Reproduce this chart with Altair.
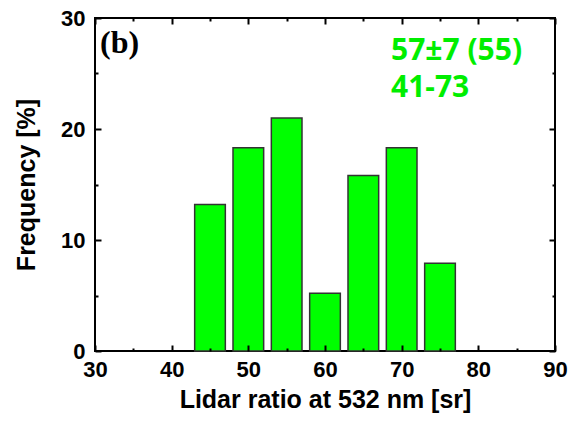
import altair as alt
import pandas as pd

# Histogram data
bin_centers = [45, 50, 55, 60, 65, 70, 75]
frequency = [13.2, 18.3, 21.0, 5.2, 15.8, 18.3, 7.9]
bar_width = 4

x_major = [30, 40, 50, 60, 70, 80, 90]
x_minor = [35, 45, 55, 65, 75, 85]
y_major = [0, 10, 20, 30]
y_minor = [5, 15, 25]

panel_label = "(b)"
stats_lines = ["57±7 (55)", "41-73"]

df = pd.DataFrame({"center": bin_centers, "freq": frequency})

LABEL_FONT = "Liberation Sans"
GREEN = "#00ff00"
TEXT_GREEN = "#00ee00"

base = alt.Chart(df).transform_calculate(
    start=f"datum.center - {bar_width}/2",
    end=f"datum.center + {bar_width}/2",
)

xscale = alt.Scale(domain=[30, 90], nice=False, zero=False)
yscale = alt.Scale(domain=[0, 30], nice=False)


def axis(orient, values, size, labels=False, title=None, pad=10, tpad=10):
    kw = dict(
        orient=orient, values=values, tickSize=size, offset=-size,
        tickWidth=2, tickColor="black", domain=False, grid=False,
        labels=labels, zindex=2,
    )
    if labels:
        kw.update(labelFont=LABEL_FONT, labelFontSize=22, labelFontWeight="bold",
                  labelColor="black", labelPadding=pad, labelFlush=False)
    if title is not None:
        kw.update(title=title, titleFont=LABEL_FONT, titleFontSize=25,
                  titleFontWeight="bold", titleColor="black", titlePadding=tpad)
    else:
        kw.update(title=None)
    return alt.Axis(**kw)


bars = base.mark_bar(color=GREEN, stroke="#333333", strokeWidth=1.5).encode(
    x=alt.X("start:Q", scale=xscale,
            axis=axis("bottom", x_major, 6, labels=True,
                      title="Lidar ratio at 532 nm [sr]", pad=8, tpad=7)),
    x2="end:Q",
    y=alt.Y("freq:Q", scale=yscale,
            axis=axis("left", y_major, 6, labels=True,
                      title="Frequency [%]", pad=10, tpad=21)),
    y2=alt.datum(0),
)


def ghost(xax, yax):
    return base.mark_bar(opacity=0).encode(
        x=alt.X("start:Q", scale=xscale, axis=xax),
        x2="end:Q",
        y=alt.Y("freq:Q", scale=yscale, axis=yax),
        y2=alt.datum(0),
    )


top_right_major = ghost(axis("top", x_major, 6), axis("right", y_major, 6))
bottom_left_minor = ghost(axis("bottom", x_minor, 3), axis("left", y_minor, 3))
top_right_minor = ghost(axis("top", x_minor, 3), axis("right", y_minor, 3))

label_b = alt.Chart(pd.DataFrame({"t": [panel_label]})).mark_text(
    font="Liberation Serif", fontSize=32, fontWeight="bold", color="black",
    align="left", baseline="alphabetic",
).encode(text="t:N", x=alt.value(5), y=alt.value(35))


def stat_text(line, ypix):
    return alt.Chart(pd.DataFrame({"t": [line]})).mark_text(
        font="Open Sans", fontSize=30, fontWeight="bold", color=TEXT_GREEN,
        align="left", baseline="alphabetic",
    ).encode(text="t:N", x=alt.value(296), y=alt.value(ypix))


stats1 = stat_text(stats_lines[0], 42)
stats2 = stat_text(stats_lines[1], 79)

chart = alt.layer(
    bars, top_right_major, bottom_left_minor, top_right_minor,
    label_b, stats1, stats2,
).resolve_axis(x="independent", y="independent").properties(
    width=460, height=333,
    autosize=alt.AutoSizeParams(type="none"),
    padding={"left": 95, "top": 18, "right": 25, "bottom": 72},
    background="white",
).configure_view(stroke="black", strokeWidth=2)

chart.save("out.html", embed_options={"renderer": "svg", "actions": False})
